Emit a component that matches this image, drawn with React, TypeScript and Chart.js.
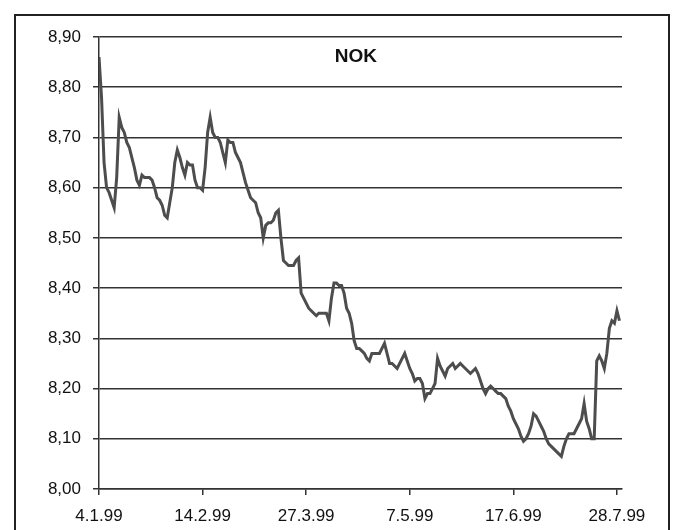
import React, { useEffect, useRef } from 'react';
import { Chart, registerables } from 'chart.js';

Chart.register(...registerables);

// Days counted from 4.1.99
const dayOffsets: number[] = [
  0, 1, 2, 3, 4, 6, 7, 8, 9, 10, 11, 12, 13, 14, 15, 16, 17, 18, 19, 20,
  21, 22, 23, 24, 25, 26, 27, 28, 29, 30, 31, 32, 33, 34, 35, 36, 37, 38, 39, 40,
  41, 42, 43, 44, 45, 46, 47, 48, 49, 50, 51, 52, 53, 54, 55, 56, 57, 58, 59, 60,
  61, 62, 63, 64, 65, 66, 67, 68, 69, 70, 71, 72, 73, 74, 75, 76, 77, 78, 79, 80,
  81, 82, 83, 84, 85, 86, 87, 88, 89, 90, 91, 92, 93, 94, 95, 96, 97, 98, 99, 100,
  101, 102, 103, 104, 105, 106, 107, 108, 109, 110, 111, 112, 113, 114, 115, 116, 117, 118, 119, 120,
  121, 122, 123, 124, 125, 126, 127, 128, 129, 130, 131, 132, 133, 134, 135, 136, 137, 138, 139, 140,
  141, 142, 143, 144, 145, 146, 147, 148, 149, 150, 151, 152, 153, 154, 155, 156, 157, 158, 159, 160,
  161, 162, 163, 164, 165, 166, 167, 168, 169, 170, 171, 172, 173, 174, 175, 176, 177, 178, 179, 180,
  181, 182, 183, 184, 185, 186, 187, 188, 189, 190, 191, 192, 193, 194, 195, 196, 197, 198, 199, 200,
  201, 202, 203, 204, 205, 206,
];

const rates: number[] = [
  8.86, 8.78, 8.65, 8.6, 8.59, 8.56, 8.62, 8.74, 8.72, 8.71, 8.69, 8.68, 8.66, 8.64, 8.615, 8.605, 8.625, 8.62, 8.62, 8.62,
  8.615, 8.6, 8.58, 8.575, 8.565, 8.545, 8.54, 8.57, 8.6, 8.65, 8.675, 8.66, 8.64, 8.625, 8.65, 8.645, 8.645, 8.615, 8.6, 8.6,
  8.595, 8.64, 8.71, 8.74, 8.71, 8.7, 8.7, 8.69, 8.67, 8.65, 8.695, 8.69, 8.69, 8.67, 8.66, 8.65, 8.63, 8.61, 8.595, 8.58,
  8.575, 8.57, 8.55, 8.54, 8.5, 8.525, 8.53, 8.53, 8.535, 8.55, 8.555, 8.5, 8.455, 8.45, 8.445, 8.445, 8.445, 8.455, 8.46, 8.39,
  8.38, 8.37, 8.36, 8.355, 8.35, 8.345, 8.35, 8.35, 8.35, 8.35, 8.335, 8.38, 8.41, 8.41, 8.405, 8.405, 8.39, 8.36, 8.35, 8.33,
  8.295, 8.28, 8.28, 8.275, 8.27, 8.26, 8.255, 8.27, 8.27, 8.27, 8.27, 8.28, 8.29, 8.27, 8.25, 8.25, 8.245, 8.24, 8.25, 8.26,
  8.27, 8.255, 8.24, 8.23, 8.215, 8.22, 8.22, 8.21, 8.18, 8.19, 8.19, 8.2, 8.21, 8.26, 8.245, 8.235, 8.225, 8.24, 8.245, 8.25,
  8.24, 8.245, 8.25, 8.245, 8.24, 8.235, 8.23, 8.235, 8.24, 8.23, 8.215, 8.2, 8.19, 8.2, 8.205, 8.2, 8.195, 8.19, 8.19, 8.185,
  8.18, 8.165, 8.155, 8.14, 8.13, 8.12, 8.105, 8.095, 8.1, 8.11, 8.125, 8.15, 8.145, 8.135, 8.125, 8.115, 8.1, 8.09, 8.085, 8.08,
  8.075, 8.07, 8.065, 8.085, 8.1, 8.11, 8.11, 8.11, 8.12, 8.13, 8.14, 8.17, 8.135, 8.12, 8.1, 8.1, 8.255, 8.265, 8.255, 8.24,
  8.27, 8.32, 8.335, 8.33, 8.355, 8.335,
];

const tickDays: number[] = [0, 41, 82, 123, 164, 205];
const tickLabels: string[] = ['4.1.99', '14.2.99', '27.3.99', '7.5.99', '17.6.99', '28.7.99'];
const xMax = 207;
const yMin = 8.0;
const yMax = 8.9;
const yStep = 0.1;
const chartTitle = 'NOK';

const FONT = '"Liberation Sans", Arial, Helvetica, sans-serif';

const titlePlugin = {
  id: 'nokTitle',
  afterDraw(chart: any) {
    const { ctx, chartArea } = chart;
    ctx.save();
    ctx.font = `bold 19px ${FONT}`;
    ctx.fillStyle = '#111';
    ctx.textAlign = 'center';
    ctx.textBaseline = 'middle';
    ctx.fillText(
      chartTitle,
      chartArea.left + (chartArea.right - chartArea.left) * 0.491,
      chartArea.top + 20
    );
    ctx.restore();
  },
};

export default function App() {
  const canvasRef = useRef<HTMLCanvasElement | null>(null);

  useEffect(() => {
    if (!canvasRef.current) return;
    const points = dayOffsets.map((d, i) => ({ x: d, y: rates[i] }));
    const chart = new Chart(canvasRef.current, {
      type: 'line',
      data: {
        datasets: [
          {
            label: chartTitle,
            data: points,
            borderColor: '#4d4d4d',
            borderWidth: 3,
            pointRadius: 0,
            tension: 0,
            fill: false,
          },
        ],
      },
      options: {
        responsive: false,
        animation: false,
        layout: { padding: { top: 37, right: 51, left: 0, bottom: 0 } },
        plugins: {
          legend: { display: false },
          tooltip: { enabled: false },
          title: { display: false },
        },
        scales: {
          x: {
            type: 'linear',
            min: 0,
            max: xMax,
            afterBuildTicks: (axis: any) => {
              axis.ticks = tickDays.map((v) => ({ value: v }));
            },
            afterFit: (axis: any) => {
              axis.height = 41;
            },
            ticks: {
              autoSkip: false,
              maxRotation: 0,
              padding: 11,
              color: '#111',
              font: { family: FONT, size: 17 },
              callback: (value: any) => {
                const idx = tickDays.indexOf(Number(value));
                return idx >= 0 ? tickLabels[idx] : '';
              },
            },
            grid: {
              drawOnChartArea: false,
              drawTicks: true,
              tickLength: 6,
              color: '#333',
              lineWidth: 1.5,
            },
            border: { display: true, color: '#333', width: 1.5 },
          },
          y: {
            min: yMin,
            max: yMax,
            afterFit: (axis: any) => {
              axis.width = 99;
            },
            ticks: {
              stepSize: yStep,
              padding: 12,
              color: '#111',
              font: { family: FONT, size: 17 },
              callback: (value: any) => Number(value).toFixed(2).replace('.', ','),
            },
            grid: {
              drawOnChartArea: true,
              drawTicks: true,
              tickLength: 6,
              color: '#333',
              lineWidth: 1.5,
            },
            border: { display: true, color: '#333', width: 1.5 },
          },
        },
      },
      plugins: [titlePlugin],
    });
    return () => chart.destroy();
  }, []);

  return (
    <div
      style={{
        position: 'fixed',
        left: 0,
        top: 0,
        width: 673,
        height: 530,
        overflow: 'hidden',
        background: '#ffffff',
      }}
    >
      <canvas ref={canvasRef} width={673} height={530} style={{ display: 'block' }} />
      <div
        style={{
          position: 'absolute',
          left: 14,
          top: 14,
          width: 652,
          height: 560,
          border: '2px solid #222',
          pointerEvents: 'none',
        }}
      />
    </div>
  );
}
